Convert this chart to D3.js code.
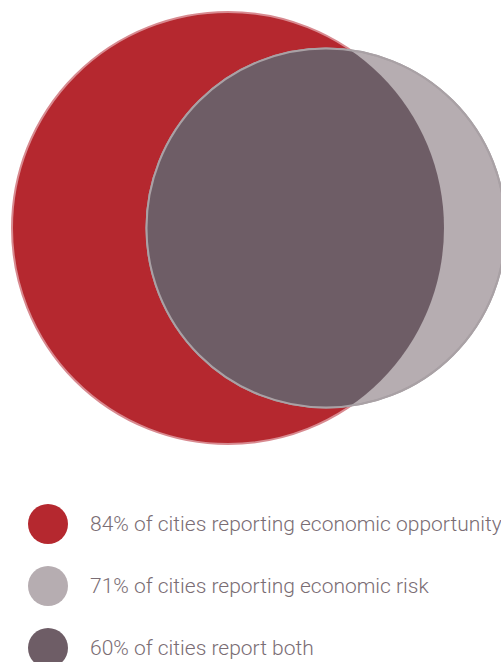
<!DOCTYPE html>
<html>
<head>
<meta charset="utf-8">
<script src="https://cdn.jsdelivr.net/npm/d3@7"></script>
<style>
  body { margin: 0; background: #fff; }
</style>
</head>
<body>
<div id="chart"></div>
<script>
// values shown in the chart
var setNames = ["opportunity", "risk", "both"];
var setValues = [84, 71, 60];
var legendLabels = [
  "84% of cities reporting economic opportunity",
  "71% of cities reporting economic risk",
  "60% of cities report both"
];
var setColors = ["#b5282f", "#b6adb1", "#6e5d66"];

var width = 501, height = 662;

var svg = d3.select("#chart")
  .append("svg")
    .attr("width", width)
    .attr("height", height);

// radius follows the percentage
var r = d3.scaleLinear()
    .domain([71, 84])
    .range([179.5, 216]);

// horizontal placement of the two circle centres
var cx = d3.scaleOrdinal()
    .domain(["opportunity", "risk"])
    .range([228, 326]);
var cy = 228;

var circles = [
  {name: setNames[0], value: setValues[0], color: setColors[0], stroke: "#d88a90"},
  {name: setNames[1], value: setValues[1], color: setColors[1], stroke: "#a9a1a5"}
];

// clip for the overlap
svg.append("clipPath")
    .attr("id", "clip-opp")
  .append("circle")
    .attr("cx", cx(circles[0].name))
    .attr("cy", cy)
    .attr("r", r(circles[0].value));

var venn = svg.append("g");

venn.selectAll("circle.set")
  .data(circles)
  .enter()
  .append("circle")
    .attr("class", "set")
    .attr("cx", function(d) { return cx(d.name); })
    .attr("cy", cy)
    .attr("r", function(d) { return r(d.value); })
    .style("fill", function(d) { return d.color; })
    .style("stroke", function(d) { return d.stroke; })
    .style("stroke-width", 2);

// overlap region
venn.append("circle")
    .attr("cx", cx(circles[1].name))
    .attr("cy", cy)
    .attr("r", r(circles[1].value))
    .attr("clip-path", "url(#clip-opp)")
    .style("fill", setColors[2]);

// outline of the risk circle on top
venn.append("circle")
    .attr("cx", cx(circles[1].name))
    .attr("cy", cy)
    .attr("r", r(circles[1].value))
    .style("fill", "none")
    .style("stroke", circles[1].stroke)
    .style("stroke-width", 2);

// Handmade legend
var ly = d3.scalePoint()
    .domain(setNames)
    .range([524, 648]);

var legend = svg.selectAll("g.legend")
  .data(setNames)
  .enter()
  .append("g")
    .attr("class", "legend")
    .attr("transform", function(d) { return "translate(0," + ly(d) + ")"; });

legend.append("circle")
    .attr("cx", 48)
    .attr("r", 20)
    .style("fill", function(d, i) { return setColors[i]; });

legend.append("text")
    .attr("x", 90)
    .attr("dy", "0.35em")
    .text(function(d, i) { return legendLabels[i]; })
    .style("font-family", "Roboto, 'Liberation Sans', sans-serif")
    .style("font-weight", 300)
    .style("font-size", "21px")
    .style("fill", "#7a6d74");
</script>
</body>
</html>
